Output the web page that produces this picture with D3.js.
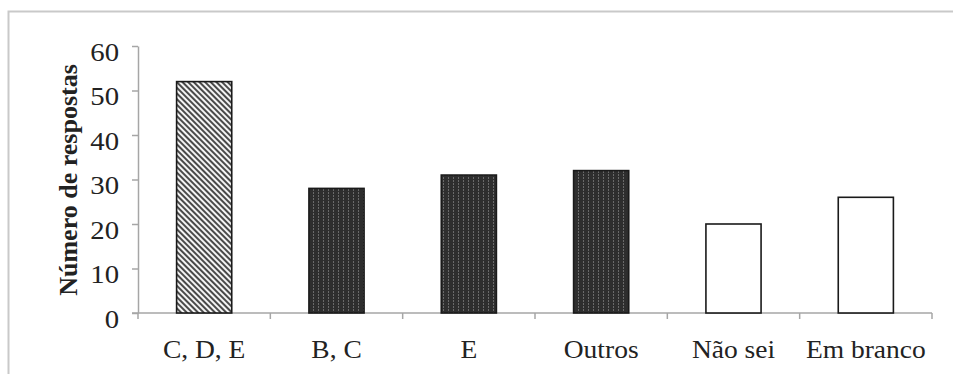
<!DOCTYPE html>
<html>
<head>
<meta charset="utf-8">
<script src="https://cdn.jsdelivr.net/npm/d3@7"></script>
<style>
  html, body { margin: 0; padding: 0; background: #fff; }
  svg { display: block; }
  text { font-family: "Liberation Serif", "Times New Roman", serif; fill: #222; }
</style>
</head>
<body>
<svg id="chart" width="953" height="374"></svg>
<script>
// Answers grouped by choice
const categories = ["C, D, E", "B, C", "E", "Outros", "Não sei", "Em branco"];
const responses  = [52, 28, 31, 32, 20, 26];
const fills      = ["hatch", "dots", "dots", "dots", "blank", "blank"];
const yTicks     = [0, 10, 20, 30, 40, 50, 60];
const yLabel     = "Número de respostas";

const width = 953, height = 374;
const margin = { left: 138, right: 21, top: 46, bottom: 61 };

const svg = d3.select("#chart");

// Patterns for the bar fills
const defs = svg.append("defs");
const hatch = defs.append("pattern")
  .attr("id", "hatch").attr("patternUnits", "userSpaceOnUse")
  .attr("width", 4).attr("height", 4)
  .attr("patternTransform", "rotate(45)");
hatch.append("rect").attr("width", 4).attr("height", 4).attr("fill", "#f4f4f4");
hatch.append("rect").attr("width", 4).attr("height", 2).attr("fill", "#4a4a4a");

const dots = defs.append("pattern")
  .attr("id", "dots").attr("patternUnits", "userSpaceOnUse")
  .attr("width", 5).attr("height", 3);
dots.append("rect").attr("width", 5).attr("height", 3).attr("fill", "#2e2e2e");
dots.append("rect").attr("x", 3).attr("width", 1).attr("height", 2).attr("fill", "#6a6a6a");

const fillFor = f => f === "hatch" ? "url(#hatch)" : f === "dots" ? "url(#dots)" : "#fff";

// Outer frame
svg.append("path")
  .attr("d", `M8.5,${height} V11.5 H${width}`)
  .attr("fill", "none").attr("stroke", "#c9c9c9").attr("stroke-width", 2);

const x = d3.scaleBand()
  .domain(categories)
  .range([margin.left, width - margin.right])
  .paddingInner(0.5833).paddingOuter(0.2917);

const band = d3.scaleBand()
  .domain(categories)
  .range([margin.left, width - margin.right]);

const y = d3.scaleLinear()
  .domain([0, 60])
  .range([height - margin.bottom, margin.top]);

// Y axis
const yAxis = svg.append("g")
  .attr("transform", `translate(${margin.left},0)`)
  .call(d3.axisLeft(y).tickValues(yTicks).tickSize(6).tickPadding(13).tickSizeOuter(0));
yAxis.select(".domain").attr("stroke", "#a6a6a6").attr("stroke-width", 1.5);
yAxis.selectAll(".tick line").attr("stroke", "#a6a6a6").attr("stroke-width", 1.5);
// wide numerals: stretch slightly, keeping the right edge in place
const numScale = 1.15;
yAxis.selectAll(".tick text")
  .attr("x", -19 / numScale)
  .attr("y", 6)
  .attr("transform", `scale(${numScale},1)`)
  .style("font-family", "Liberation Serif, serif")
  .style("font-size", "25px").attr("fill", "#222");

// X axis baseline with boundary ticks
const x0 = y(0);
const xAxis = svg.append("g");
xAxis.append("line")
  .attr("x1", margin.left - 6).attr("x2", width - margin.right)
  .attr("y1", x0).attr("y2", x0)
  .attr("stroke", "#a6a6a6").attr("stroke-width", 1.5);
const bounds = categories.map(c => band(c)).concat([band(categories[5]) + band.bandwidth()]);
xAxis.selectAll("line.bt").data(bounds).join("line")
  .attr("class", "bt")
  .attr("x1", d => d).attr("x2", d => d)
  .attr("y1", x0).attr("y2", x0 + 6)
  .attr("stroke", "#a6a6a6").attr("stroke-width", 1.5);
xAxis.selectAll("text").data(categories).join("text")
  .attr("transform", d => `translate(${band(d) + band.bandwidth() / 2},358) scale(1.1,1)`)
  .attr("text-anchor", "middle")
  .style("font-size", "25px")
  .text(d => d);

// Bars
svg.append("g").selectAll("rect")
  .data(categories.map((c, i) => ({ c, v: responses[i], f: fills[i] })))
  .join("rect")
  .attr("x", d => x(d.c))
  .attr("width", x.bandwidth())
  .attr("y", d => y(d.v))
  .attr("height", d => y(0) - y(d.v))
  .attr("fill", d => fillFor(d.f))
  .attr("stroke", "#1a1a1a").attr("stroke-width", 1.6);

// Y axis title
svg.append("text")
  .attr("transform", `translate(77,180) rotate(-90)`)
  .attr("text-anchor", "middle")
  .style("font-size", "26px").style("font-weight", "bold")
  .text(yLabel);
</script>
</body>
</html>
